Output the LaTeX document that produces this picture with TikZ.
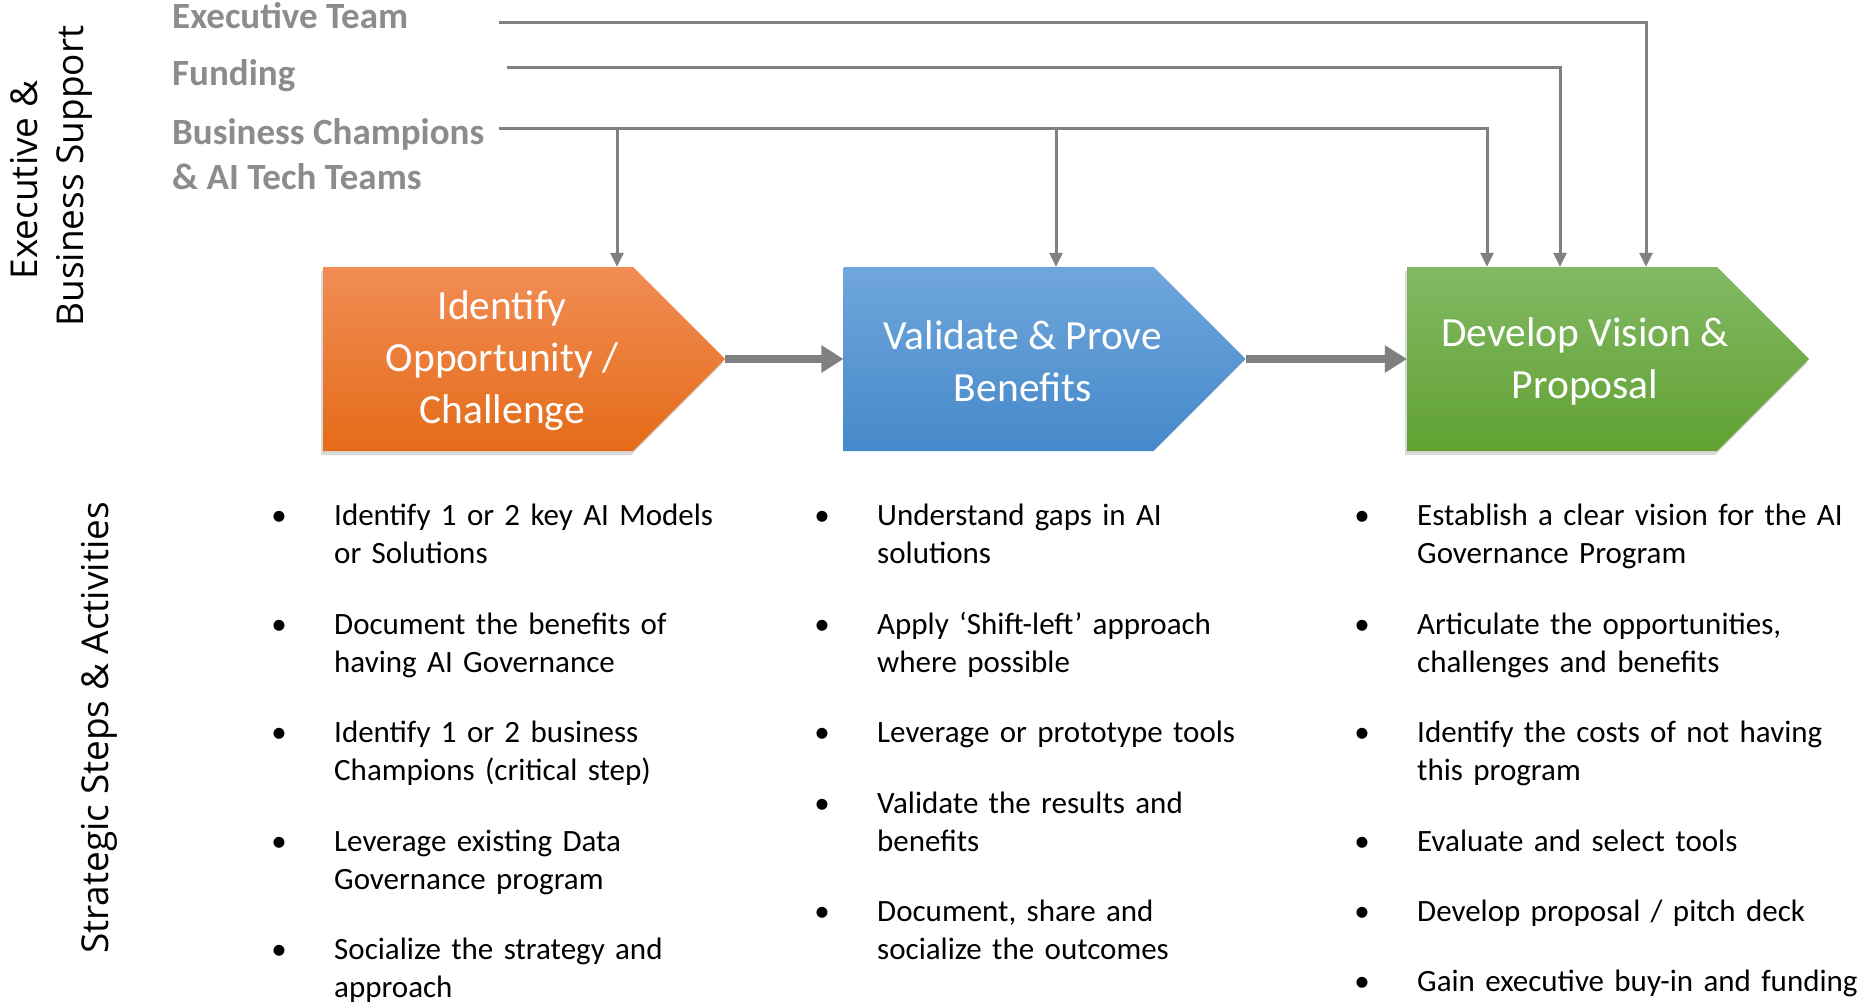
\documentclass[tikz,border=0pt]{standalone}
\usepackage{fontspec}
\setmainfont{Carlito}
\newfontfamily\sidefont{Open Sans}
\usetikzlibrary{shapes.symbols}
\usetikzlibrary{shadows}
\usetikzlibrary{positioning}
\usetikzlibrary{arrows.meta}

\definecolor{feedgray}{HTML}{808080}
\definecolor{labelgray}{HTML}{8C8C8C}
\definecolor{orangetop}{HTML}{F18D55}
\definecolor{orangebot}{HTML}{E56B18}
\definecolor{bluetop}{HTML}{6FA6DC}
\definecolor{bluebot}{HTML}{4689CA}
\definecolor{greentop}{HTML}{82B964}
\definecolor{greenbot}{HTML}{61A132}

\tikzset{
  stage/.style={signal, signal to=east, signal pointer angle=90, minimum width=402pt, minimum height=184pt,
    inner sep=0pt},
  title/.style={inner sep=0pt, text=white, align=center, font=\fontsize{41.5}{52}\selectfont},
  shade/.style={drop shadow={shadow xshift=-2pt, shadow yshift=-4pt, opacity=0.3}},
  support/.style={anchor=north west, inner sep=0pt, align=left, text=labelgray,
    font=\bfseries\fontsize{37}{45}\selectfont, execute at begin node=\strut},
  side/.style={rotate=90, inner sep=0pt, font=\sidefont\fontsize{37}{44}\selectfont},
  feed/.style={draw=feedgray, line width=3pt, -{Triangle[length=14pt,width=13pt]}},
  flow/.style={draw=feedgray, line width=8pt, -{Triangle[length=22pt,width=26pt]}},
  item/.style={inner sep=0pt, text width=450pt, align=left, font=\fontsize{31}{38}\selectfont,
    execute at begin node=\strut, execute at end node=\strut},
  dot/.style={inner sep=0pt, anchor=north, font=\fontsize{31}{38}\selectfont, execute at begin node=\strut},
}

\begin{document}
\begin{tikzpicture}[x=1pt, y=-1pt, node distance=32pt]
  \useasboundingbox (0,0) rectangle (1863,1007);

  % side headings
  \node [side] (exec-side) at (24,180) {Executive \&};
  \node [side] (biz-side) at (74,176) {Business Support};
  \node [side] (steps-side) at (99,728) {Strategic Steps \& Activities};

  % support sources
  \node [support] (exec) at (172,-3.5) {Executive Team};
  \node [support] (funding) at (172,53.5) {Funding};
  \node [support] (champions) at (172,118.5) {Business Champions\\\& AI Tech Teams};
  \coordinate (exec-out) at (499,22);
  \coordinate (funding-out) at (507,67);
  \coordinate (champions-out) at (499,128);

  % stages
  \node [stage, shade, top color=orangetop, bottom color=orangebot, anchor=west] (identify) at (323,359) {};
  \node [stage, top color=bluetop, bottom color=bluebot, right=118pt of identify] (validate) {};
  \node [stage, shade, top color=greentop, bottom color=greenbot, right=161pt of validate] (vision) {};
  \node [title] (identify-title) at ([xshift=24pt, yshift=-2pt]identify.center) {Identify\\Opportunity /\\Challenge};
  \node [title] (validate-title) at ([xshift=24pt, yshift=-2pt]validate.center) {Validate \& Prove\\Benefits};
  \node [title] (vision-title) at ([xshift=23pt, yshift=-2pt]vision.center) {Develop Vision \&\\Proposal};

  \path [flow] (identify.east) -- (validate.west);
  \path [flow] (validate.east) -- (vision.west);

  \path [feed] (exec-out) -| (1646,0 |- vision.north);
  \path [feed] (funding-out) -| (1560,0 |- vision.north);
  \path [feed] (champions-out) -| (1487,0 |- vision.north);
  \path [feed] (617,0 |- champions-out) -- (617,0 |- identify.north);
  \path [feed] (1056,0 |- champions-out) -- (1056,0 |- validate.north);

  % activities
  \node [item, anchor=north west] (a1) at (334,499) {Identify 1 or 2 key AI Models\\or Solutions};
  \node [item, below=of a1] (a2) {Document the benefits of\\having AI Governance};
  \node [item, below=of a2] (a3) {Identify 1 or 2 business\\Champions (critical step)};
  \node [item, below=of a3] (a4) {Leverage existing Data\\Governance program};
  \node [item, below=of a4] (a5) {Socialize the strategy and\\approach};

  \node [item, anchor=north west] (b1) at (877,499) {Understand gaps in AI\\solutions};
  \node [item, below=of b1] (b2) {Apply ‘Shift-left’ approach\\where possible};
  \node [item, below=of b2] (b3) {Leverage or prototype tools};
  \node [item, below=of b3] (b4) {Validate the results and\\benefits};
  \node [item, below=of b4] (b5) {Document, share and\\socialize the outcomes};

  \node [item, anchor=north west] (c1) at (1417,499) {Establish a clear vision for the AI\\Governance Program};
  \node [item, below=of c1] (c2) {Articulate the opportunities,\\challenges and benefits};
  \node [item, below=of c2] (c3) {Identify the costs of not having\\this program};
  \node [item, below=of c3] (c4) {Evaluate and select tools};
  \node [item, below=of c4] (c5) {Develop proposal / pitch deck};
  \node [item, below=of c5] (c6) {Gain executive buy-in and funding};

  \foreach \n in {a1,a2,a3,a4,a5,b1,b2,b3,b4,b5,c1,c2,c3,c4,c5,c6}
    \node [dot] at ([xshift=-55pt]\n.north west) {•};
\end{tikzpicture}
\end{document}
